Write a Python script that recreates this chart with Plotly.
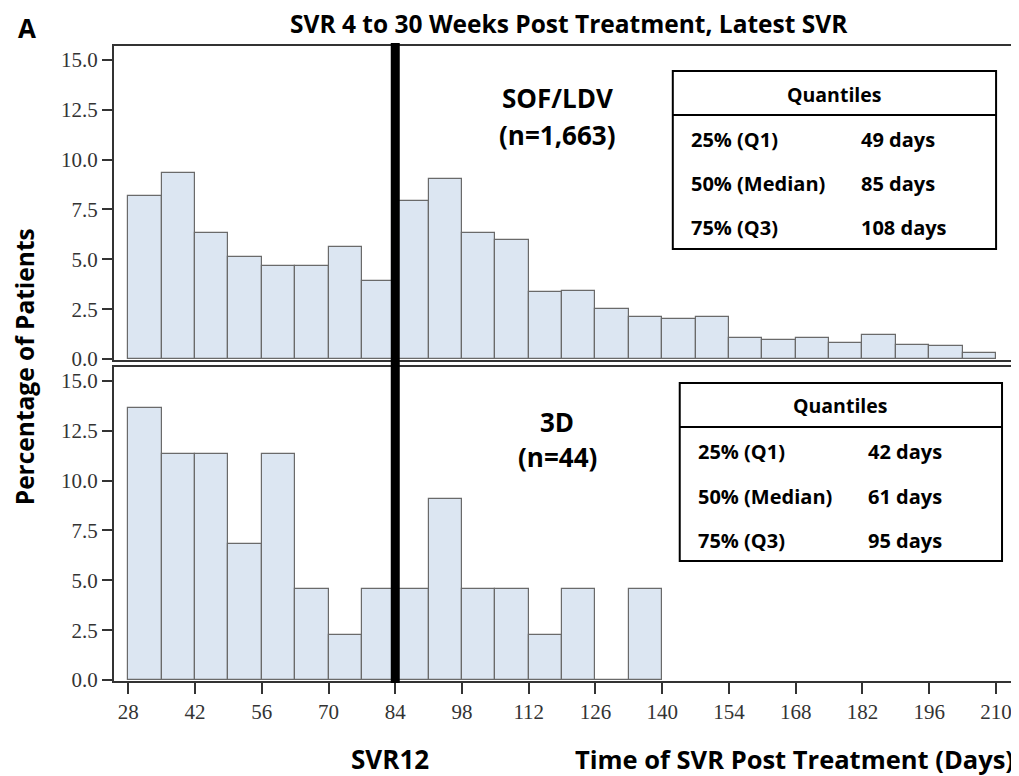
import plotly.graph_objects as go
from plotly.subplots import make_subplots

# ---- data ----
bin_width = 7
top_bin_lefts = [28, 35, 42, 49, 56, 63, 70, 77, 84, 91, 98, 105, 112, 119, 126,
                 133, 140, 147, 154, 161, 168, 175, 182, 189, 196, 203]
top_values = [8.2, 9.35, 6.3, 5.1, 4.65, 4.65, 5.6, 3.9, 7.95, 9.05, 6.3, 5.95, 3.35,
              3.4, 2.5, 2.1, 2.0, 2.1, 1.05, 0.95, 1.05, 0.8, 1.2, 0.7, 0.65, 0.3]
bottom_bin_lefts = [28, 35, 42, 49, 56, 63, 70, 77, 84, 91, 98, 105, 112, 119, 126, 133]
bottom_values = [13.64, 11.36, 11.36, 6.82, 11.36, 4.55, 2.27, 4.55, 4.55, 9.09,
                 4.55, 4.55, 2.27, 4.55, 0.0, 4.55]
x_ticks = [28, 42, 56, 70, 84, 98, 112, 126, 140, 154, 168, 182, 196, 210]
y_ticks = [0.0, 2.5, 5.0, 7.5, 10.0, 12.5, 15.0]
svr12_day = 84

top_label = ["SOF/LDV", "(n=1,663)"]
bottom_label = ["3D", "(n=44)"]
quant_names = ["25% (Q1)", "50% (Median)", "75% (Q3)"]
top_quant = ["49 days", "85 days", "108 days"]
bottom_quant = ["42 days", "61 days", "95 days"]

BAR_FILL = "#dce6f2"
BAR_LINE = "#6a6a6a"
AXIS_COL = "#333333"
SANS = "Open Sans"
SERIF = "Liberation Serif"

fig = make_subplots(rows=2, cols=1, shared_xaxes=False, vertical_spacing=0.0)

fig.add_trace(go.Bar(x=top_bin_lefts, y=top_values, width=bin_width, offset=0,
                     marker=dict(color=BAR_FILL, line=dict(color=BAR_LINE, width=1.2)),
                     showlegend=False), row=1, col=1)
fig.add_trace(go.Bar(x=bottom_bin_lefts, y=bottom_values, width=bin_width, offset=0,
                     marker=dict(color=BAR_FILL, line=dict(color=BAR_LINE, width=1.2)),
                     showlegend=False), row=2, col=1)

xrange = [25.0, 214.0]
yrange = [-0.05, 15.7]
common_axis = dict(showline=True, linecolor=AXIS_COL, linewidth=2, mirror=True,
                   showgrid=False, zeroline=False)
tickfont = dict(family=SERIF, size=21, color=AXIS_COL)

# the page body has an 8px margin, so the figure is 8px smaller than the window
fig.update_layout(
    width=1011, height=768,
    margin=dict(l=106, r=2, t=38, b=95),
    paper_bgcolor="white", plot_bgcolor="white",
    bargap=0,
    xaxis=dict(domain=[0, 1], range=xrange, showticklabels=False, ticks="",
               anchor="y", **common_axis),
    yaxis=dict(domain=[0.5055, 1.0], range=yrange, tickvals=y_ticks,
               ticktext=[f"{v:.1f}" for v in y_ticks], ticks="outside", ticklen=10,
               tickwidth=1.5, tickcolor=AXIS_COL, tickfont=tickfont, **common_axis),
    xaxis2=dict(domain=[0, 1], range=xrange, tickvals=x_ticks,
                ticktext=[str(v) for v in x_ticks], ticks="outside", ticklen=11,
                tickwidth=1.5, tickcolor=AXIS_COL, tickfont=tickfont,
                anchor="y2", **common_axis),
    yaxis2=dict(domain=[0, 0.4945], range=yrange, tickvals=y_ticks,
                ticktext=[f"{v:.1f}" for v in y_ticks], ticks="outside", ticklen=10,
                tickwidth=1.5, tickcolor=AXIS_COL, tickfont=tickfont, **common_axis),
)

# SVR12 vertical line
fig.add_shape(type="line", xref="x2", yref="paper", x0=svr12_day, x1=svr12_day,
              y0=-0.003, y1=1.0047, line=dict(color="black", width=9), layer="above")

ann = []
def txt(x, y, s, size, xanchor="center", angle=0, bold=True):
    ann.append(dict(xref="paper", yref="paper", x=x, y=y, text=(f"<b>{s}</b>" if bold else s),
                    showarrow=False, xanchor=xanchor, yanchor="middle", textangle=angle,
                    font=dict(family=SANS, size=size, color="black")))

txt(0.505, 1.0362, "SVR 4 to 30 Weeks Post Treatment, Latest SVR", 24.5)
txt(-0.0963, 1.0291, "A", 26)
txt(-0.0985, 0.4945, "Percentage of Patients", 24.5, angle=-90)
txt(0.3068, -0.1228, "SVR12", 26)
txt(0.7553, -0.1228, "Time of SVR Post Treatment (Days)", 25.5)

txt(0.4917, 0.9181, top_label[0], 26)
txt(0.4917, 0.8598, top_label[1], 26)
txt(0.4917, 0.4079, bottom_label[0], 26)
txt(0.4917, 0.3528, bottom_label[1], 26)

def quant_box(x0, x1, y0, y1, yh, yq, rows_y, c1, c2, values):
    fig.add_shape(type="rect", xref="paper", yref="paper", x0=x0, x1=x1, y0=y0, y1=y1,
                  line=dict(color="black", width=2), fillcolor="white", layer="above")
    fig.add_shape(type="line", xref="paper", yref="paper", x0=x0, x1=x1, y0=yh, y1=yh,
                  line=dict(color="black", width=2), layer="above")
    txt((x0 + x1) / 2, yq, "Quantiles", 19.5)
    for ry, name, val in zip(rows_y, quant_names, values):
        txt(c1, ry, name, 20, xanchor="left")
        txt(c2, ry, val, 20, xanchor="left")

quant_box(0.6202, 0.9790, 0.6803, 0.9606, 0.8913, 0.9244,
          [0.8535, 0.7827, 0.7134], 0.6384, 0.8272, top_quant)
quant_box(0.6279, 0.9856, 0.189, 0.4693, 0.400, 0.4331,
          [0.3622, 0.2913, 0.2205], 0.6456, 0.835, bottom_quant)

fig.update_layout(annotations=ann)
fig.write_html("out.html")
